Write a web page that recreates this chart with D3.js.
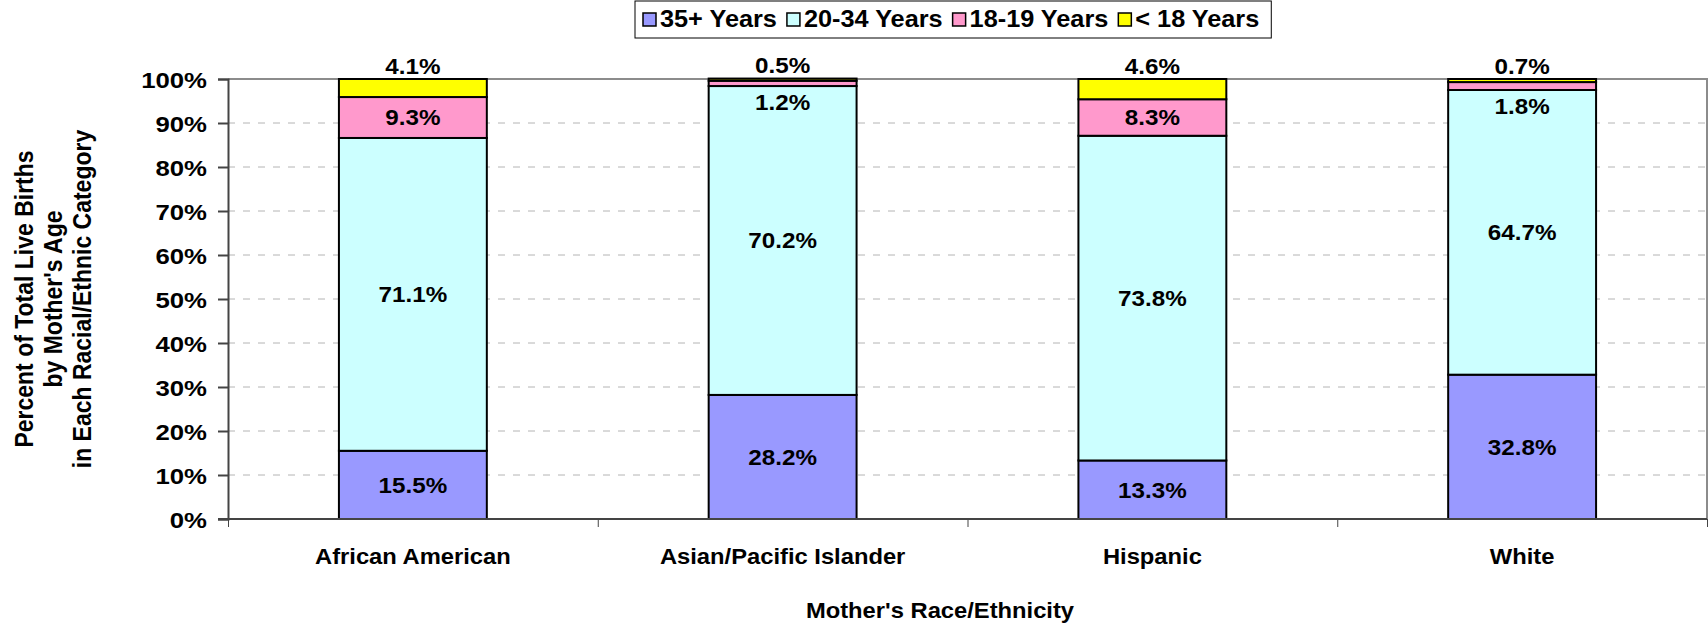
<!DOCTYPE html>
<head>
  <meta charset="utf-8">
  <title>Births by mother's age and race/ethnicity</title>
  <script src="https://d3js.org/d3.v7.min.js"></script>
  <style>
    body { margin: 0; background: #fff; }
    text { font-family: Arial, "Liberation Sans", sans-serif; font-weight: bold; fill: #000; }
  </style>
</head>
<body>
  <div id="chart"></div>
  <script>
    // data
    var categories = ['African American', 'Asian/Pacific Islander', 'Hispanic', 'White'];
    var seriesNames = ['35+ Years', '20-34 Years', '18-19 Years', '< 18 Years'];
    var age35plus = [15.5, 28.2, 13.3, 32.8];
    var age20to34 = [71.1, 70.2, 73.8, 64.7];
    var age18to19 = [9.3, 1.2, 8.3, 1.8];
    var ageUnder18 = [4.1, 0.5, 4.6, 0.7];
    var colors = ['#9999FF', '#CCFFFF', '#FF99CC', '#FFFF00'];
    var yTicks = [0, 10, 20, 30, 40, 50, 60, 70, 80, 90, 100];

    var W = 1708, H = 624;
    var margin = { top: 79, right: 1, bottom: 105, left: 228 };
    var width = W - margin.left - margin.right;
    var height = H - margin.top - margin.bottom;

    var series = [age35plus, age20to34, age18to19, ageUnder18];
    var rows = categories.map(function (c, i) {
      var r = { cat: c };
      seriesNames.forEach(function (s, k) { r[s] = series[k][i]; });
      return r;
    });
    var stacked = d3.stack().keys(seriesNames)(rows);

    var x = d3.scaleBand().domain(categories).range([0, width])
      .paddingInner(0.6).paddingOuter(0.3);
    var xEdge = d3.scaleLinear().domain([0, categories.length]).range([0, width]);
    var y = d3.scaleLinear().domain([0, 100]).range([height, 0]);

    var svg = d3.select('#chart').append('svg')
      .attr('width', W).attr('height', H);
    var g = svg.append('g')
      .attr('transform', 'translate(' + margin.left + ',' + margin.top + ')');

    // text in the original is a bit wider than Arial: stretch it horizontally
    function label(parent, px, py, str, size, k, anchor) {
      return parent.append('text')
        .attr('transform', 'translate(' + px + ',' + py + ') scale(' + k + ',1)')
        .attr('text-anchor', anchor || 'middle')
        .style('font-size', size + 'px')
        .text(str);
    }

    // gridlines
    g.append('g').selectAll('line')
      .data(yTicks.filter(function (d) { return d > 0 && d < 100; }))
      .join('line')
      .attr('x1', 0).attr('x2', width)
      .attr('y1', function (d) { return y(d); }).attr('y2', function (d) { return y(d); })
      .attr('stroke', '#b4b4b4').attr('stroke-width', 1)
      .attr('stroke-dasharray', '7,8');

    // plot area border (top + right)
    g.append('path')
      .attr('d', 'M0,' + y(100) + 'H' + width + 'V' + y(0))
      .attr('fill', 'none').attr('stroke', '#8c8c8c').attr('stroke-width', 2);

    // bars
    var layer = g.append('g').selectAll('g').data(stacked).join('g')
      .attr('fill', function (d, k) { return colors[k]; });
    layer.selectAll('rect').data(function (d) { return d; }).join('rect')
      .attr('x', function (d) { return x(d.data.cat); })
      .attr('width', x.bandwidth())
      .attr('y', function (d) { return y(d[1]); })
      .attr('height', function (d) { return y(d[0]) - y(d[1]); })
      .attr('stroke', '#000').attr('stroke-width', 2);

    // value labels
    var fs = 22;
    stacked.forEach(function (s, k) {
      s.forEach(function (d) {
        var v = d[1] - d[0];
        var cy;
        if (k === 3) cy = y(d[1]) - 13;
        else if (v < 5) cy = y(d[0]) + 16;
        else cy = (y(d[0]) + y(d[1])) / 2;
        var val = series[k][categories.indexOf(d.data.cat)];
        label(g, x(d.data.cat) + x.bandwidth() / 2, cy + fs * 0.36, val.toFixed(1) + '%', fs, 1.1);
      });
    });

    // y axis
    var yAxis = g.append('g')
      .call(d3.axisLeft(y).tickValues(yTicks).tickSize(10).tickPadding(11)
        .tickFormat(function (d) { return d + '%'; }));
    yAxis.selectAll('path, line').attr('stroke', '#444').attr('stroke-width', 2);
    yAxis.selectAll('text')
      .attr('x', 0).attr('dy', '0.36em')
      .attr('transform', 'translate(-21,0) scale(1.12,1)')
      .style('font-size', '23px')
      .style('font-family', 'Arial, "Liberation Sans", sans-serif');

    // x axis: line with ticks on the category edges
    var xAxis = g.append('g').attr('transform', 'translate(0,' + height + ')')
      .call(d3.axisBottom(xEdge).tickValues(d3.range(categories.length + 1))
        .tickSize(8).tickFormat(''));
    xAxis.select('.domain').attr('d', 'M-10,0H' + width);
    xAxis.selectAll('path, line').attr('stroke', '#444').attr('stroke-width', 2);
    xAxis.selectAll('line').attr('stroke-width', 1);

    // category labels
    categories.forEach(function (c) {
      label(g, x(c) + x.bandwidth() / 2, height + 45, c, 22, 1.08);
    });

    // axis titles
    label(svg, 940, 618, "Mother's Race/Ethnicity", 22, 1.08);

    var yTitle = ['Percent of Total Live Births', "by Mother's Age", 'in Each Racial/Ethnic Category'];
    svg.append('g').selectAll('text').data(yTitle).join('text')
      .attr('transform', function (d, i) {
        return 'translate(' + (33 + i * 29) + ',' + (margin.top + height / 2) + ') rotate(-90) scale(1,1.1)';
      })
      .attr('text-anchor', 'middle')
      .style('font-size', '23px')
      .text(function (d) { return d; });

    // legend
    var legend = svg.append('g');
    var lx = 643, lk = 1.1;
    var items = legend.selectAll('g').data(seriesNames).join('g');
    items.append('rect')
      .attr('y', 13).attr('width', 13).attr('height', 13)
      .attr('fill', function (d, k) { return colors[k]; })
      .attr('stroke', '#000').attr('stroke-width', 1.5);
    items.append('text')
      .attr('transform', 'translate(17,27) scale(' + lk + ',1)')
      .style('font-size', '23px')
      .text(function (d) { return d; });
    items.each(function () {
      var it = d3.select(this);
      it.attr('transform', 'translate(' + lx + ',0)');
      lx += 17 + it.select('text').node().getComputedTextLength() * lk + 10;
    });
    legend.insert('rect', ':first-child')
      .attr('x', 635).attr('y', 1).attr('width', lx - 635 + 2).attr('height', 37)
      .attr('fill', '#fff').attr('stroke', '#000').attr('stroke-width', 1);
  </script>
</body>
